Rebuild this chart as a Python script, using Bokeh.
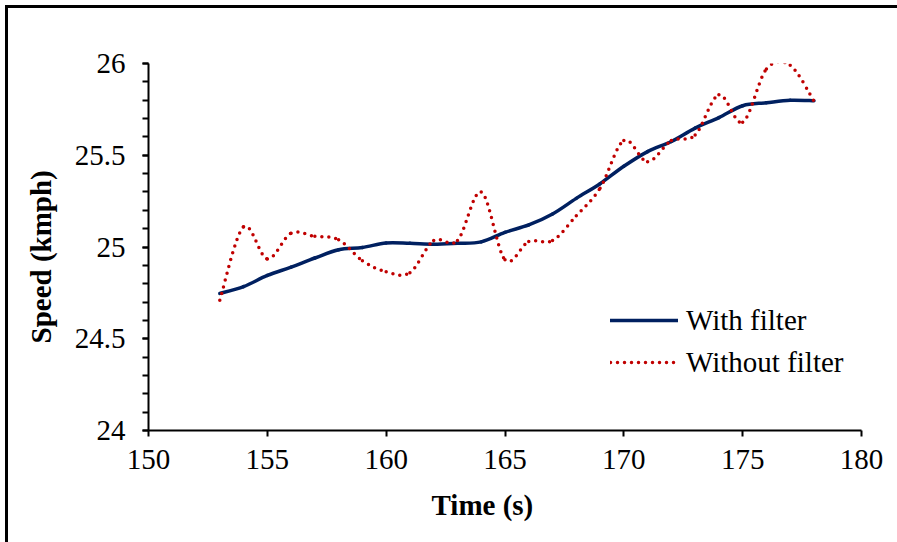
import numpy as np
from bokeh.plotting import figure
from bokeh.models import (FixedTicker, Legend, LegendItem, Title, ColumnDataSource, Range1d,
                          NumeralTickFormatter)
from bokeh.embed import file_html
from bokeh.resources import INLINE

# ---- data ----
time_s = [153, 154, 155, 156, 157, 158, 159, 160, 161, 162, 163, 164, 165,
          166, 167, 168, 169, 170, 171, 172, 173, 174, 175, 176, 177, 178]
with_filter = [24.747, 24.784, 24.845, 24.89, 24.94, 24.985, 24.997, 25.022, 25.02,
               25.015, 25.02, 25.028, 25.08, 25.12, 25.18, 25.265, 25.345, 25.44,
               25.52, 25.575, 25.648, 25.705, 25.77, 25.786, 25.80, 25.797]
without_filter = [24.71, 25.11, 24.935, 25.075, 25.058, 25.04, 24.925, 24.865, 24.86,
                  25.035, 25.035, 25.30, 24.93, 25.03, 25.035, 25.17, 25.32, 25.58,
                  25.465, 25.58, 25.61, 25.83, 25.68, 25.97, 25.99, 25.795]
x_ticks = [150, 155, 160, 165, 170, 175, 180]
y_ticks = [24, 24.5, 25, 25.5, 26]
y_minor = [round(24 + 0.1 * i, 1) for i in range(21)]

FONT = "Liberation Serif"
AXIS_FONT = "Liberation Serif, Times New Roman, serif"


def smooth_source(x, y):
    """Bezier control points (Catmull-Rom style, like a spreadsheet's smoothed line)."""
    x = np.asarray(x, float)
    y = np.asarray(y, float)
    n = len(x)
    xp = np.concatenate([[x[0]], x, [x[-1]]])
    yp = np.concatenate([[y[0]], y, [y[-1]]])
    return ColumnDataSource(dict(
        x0=x[:-1], y0=y[:-1], x1=x[1:], y1=y[1:],
        cx0=x[:-1] + (xp[2:n + 1] - xp[0:n - 1]) / 6.0,
        cy0=y[:-1] + (yp[2:n + 1] - yp[0:n - 1]) / 6.0,
        cx1=x[1:] - (xp[3:n + 2] - xp[1:n]) / 6.0,
        cy1=y[1:] - (yp[3:n + 2] - yp[1:n]) / 6.0,
    ))


p = figure(width=889, height=534, output_backend="svg", toolbar_location=None,
           x_range=Range1d(150, 180), y_range=Range1d(24, 26),
           frame_width=713, frame_height=367,
           min_border_left=140, min_border_right=36, min_border_top=55, min_border_bottom=112)
p.margin = (5, 0, 0, 5)
p.styles = {"border-left": "3px solid #000000", "border-top": "3px solid #000000"}
p.outline_line_color = None
p.xgrid.visible = False
p.ygrid.visible = False
p.background_fill_color = "white"
p.border_fill_color = "white"

r_with = p.bezier(x0="x0", y0="y0", x1="x1", y1="y1", cx0="cx0", cy0="cy0", cx1="cx1", cy1="cy1",
                  source=smooth_source(time_s, with_filter),
                  line_color="#002060", line_width=3.5, line_cap="round")
r_without = p.bezier(x0="x0", y0="y0", x1="x1", y1="y1", cx0="cx0", cy0="cy0", cx1="cx1", cy1="cy1",
                     source=smooth_source(time_s, without_filter),
                     line_color="#C00000", line_width=3.5, line_dash="0 7", line_cap="round")

p.axis.axis_line_width = 2
p.axis.axis_line_color = "black"
p.axis.major_tick_line_width = 2
p.axis.minor_tick_line_width = 2
p.axis.major_tick_in = 0
p.axis.major_tick_out = 6
p.axis.minor_tick_in = 0
p.axis.major_label_text_font = AXIS_FONT
p.axis.major_label_text_font_style = "normal"
p.axis.major_label_text_font_size = "29px"
p.axis.major_label_text_color = "black"

p.xaxis.ticker = FixedTicker(ticks=x_ticks)
p.xaxis.minor_tick_out = 0
p.xaxis.major_label_standoff = 13
p.yaxis.ticker = FixedTicker(ticks=y_ticks, minor_ticks=y_minor)
p.yaxis.formatter = NumeralTickFormatter(format="0.[0]")
p.yaxis.minor_tick_out = 6
p.yaxis.major_label_standoff = 17

# axis titles, offset along the axis as in the reference
p.add_layout(Title(text="Time (s)", align="left", offset=283, standoff=31,
                   text_font=FONT, text_font_size="29px", text_font_style="bold",
                   text_color="black"), "below")
p.add_layout(Title(text="Speed (kmph)", align="left", offset=87, standoff=29,
                   text_font=FONT, text_font_size="29px", text_font_style="bold",
                   text_color="black"), "left")

legend = Legend(items=[LegendItem(label="With filter", renderers=[r_with]),
                       LegendItem(label="Without filter", renderers=[r_without])],
                location=(462, 51), glyph_width=68, glyph_height=34, label_height=34,
                label_standoff=8, spacing=8, padding=0, margin=0,
                border_line_color=None, background_fill_alpha=0,
                label_text_font=FONT, label_text_font_size="29px", label_text_color="black")
p.add_layout(legend)

open("out.html", "w").write(file_html(p, INLINE))
